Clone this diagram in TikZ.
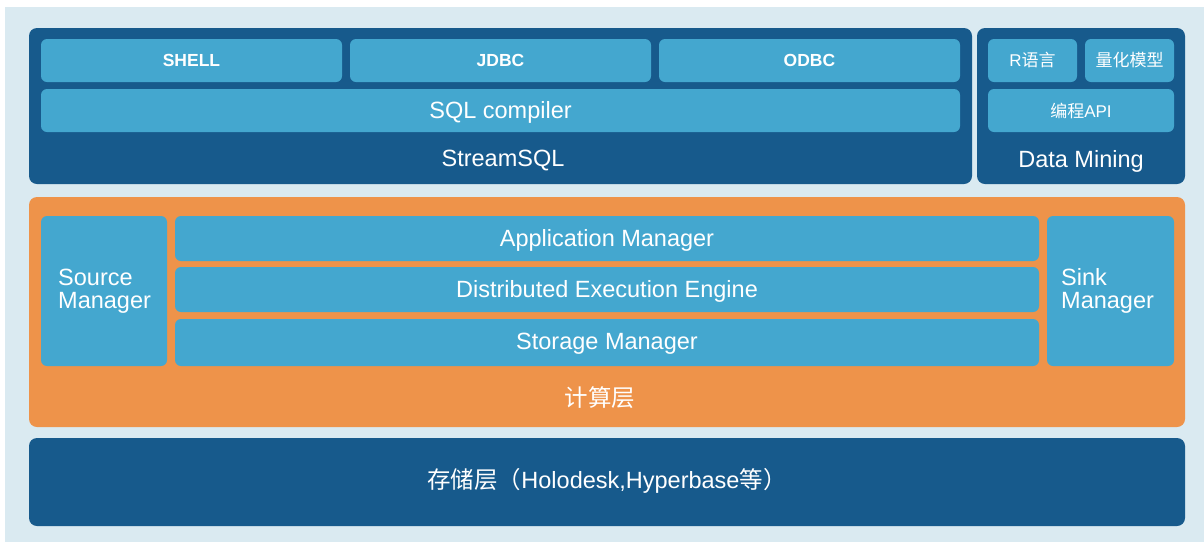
\documentclass[tikz,border=0pt]{standalone}
\usepackage{fontspec}
\setmainfont{Liberation Sans}
\newfontfamily\cjk{Noto Sans CJK SC}
\usetikzlibrary{fit}
\definecolor{pagebg}{HTML}{DAEAF1}
\definecolor{deepblue}{HTML}{175A8C}
\definecolor{skyblue}{HTML}{44A7CF}
\definecolor{tangerine}{HTML}{EE934A}
\tikzset{
  layer/.style={fill=#1, draw=none, inner sep=0pt, rounded corners=8pt},
  module/.style={fill=skyblue, draw=none, inner sep=0pt, rounded corners=6pt},
  caption/.style={text=white, inner sep=0pt, font=\fontsize{23.5}{27}\selectfont},
  boxtext/.style={caption, yshift=-1.5pt},
  tabtext/.style={caption, font=\bfseries\fontsize{17.5}{20}\selectfont},
  smalltext/.style={caption, font=\fontsize{17}{20}\selectfont},
  twoline/.style={caption, anchor=west, align=left, font=\fontsize{23.5}{22.5}\selectfont},
}
\begin{document}
\begin{tikzpicture}[x=1pt, y=-1pt]
  % canvas with its white margin
  \useasboundingbox (0,0) rectangle (1204,542);
  \fill[pagebg] (5,7) rectangle (1204,542);

  % StreamSQL layer
  \node[layer=deepblue, fit={(29,28) (972,184)}] (stream) {};
  \node[module, fit={(41,39) (342,82)}] (shell) {};
  \node[module, fit={(350,39) (651,82)}] (jdbc) {};
  \node[module, fit={(659,39) (960,82)}] (odbc) {};
  \node[module, fit={(41,89) (960,132)}] (sqlc) {};
  \node[tabtext] at (shell.center) {SHELL};
  \node[tabtext] at (jdbc.center) {JDBC};
  \node[tabtext] at (odbc.center) {ODBC};
  \node[boxtext] at (sqlc.center) {SQL compiler};
  \node[caption] (streamlbl) at (503,161) {StreamSQL};

  % Data Mining layer
  \node[layer=deepblue, fit={(977,28) (1185,184)}] (mining) {};
  \node[module, fit={(988,39) (1077,82)}] (rlang) {};
  \node[module, fit={(1085,39) (1174,82)}] (quant) {};
  \node[module, fit={(988,89) (1174,132)}] (api) {};
  \node[smalltext] at (rlang.center) {R{\cjk 语言}};
  \node[smalltext] at (quant.center) {\cjk 量化模型};
  \node[smalltext] at (api.center) {{\cjk 编程}API};
  \node[caption] (mininglbl) at (1081,161) {Data Mining};

  % compute layer
  \node[layer=tangerine, fit={(29,197) (1185,427)}] (compute) {};
  \node[module, fit={(41,216) (167,366)}] (source) {};
  \node[module, fit={(175,216) (1039,261)}] (app) {};
  \node[module, fit={(175,267) (1039,312)}] (dee) {};
  \node[module, fit={(175,319) (1039,366)}] (store) {};
  \node[module, fit={(1047,216) (1174,366)}] (sink) {};
  \node[twoline] (sourcelbl) at (58,291) {Source\\Manager};
  \node[boxtext] at (app.center) {Application Manager};
  \node[boxtext] at (dee.center) {Distributed Execution Engine};
  \node[boxtext] at (store.center) {Storage Manager};
  \node[twoline] (sinklbl) at (1061,291) {Sink\\Manager};
  \node[caption] (computelbl) at (600,398) {\cjk 计算层};

  % storage layer
  \node[layer=deepblue, fit={(29,438) (1185,526)}] (storage) {};
  \node[caption] (storagelbl) at (607,481)
    {{\cjk 存储层（}Holodesk,Hyperbase{\cjk 等）}};
\end{tikzpicture}
\end{document}
